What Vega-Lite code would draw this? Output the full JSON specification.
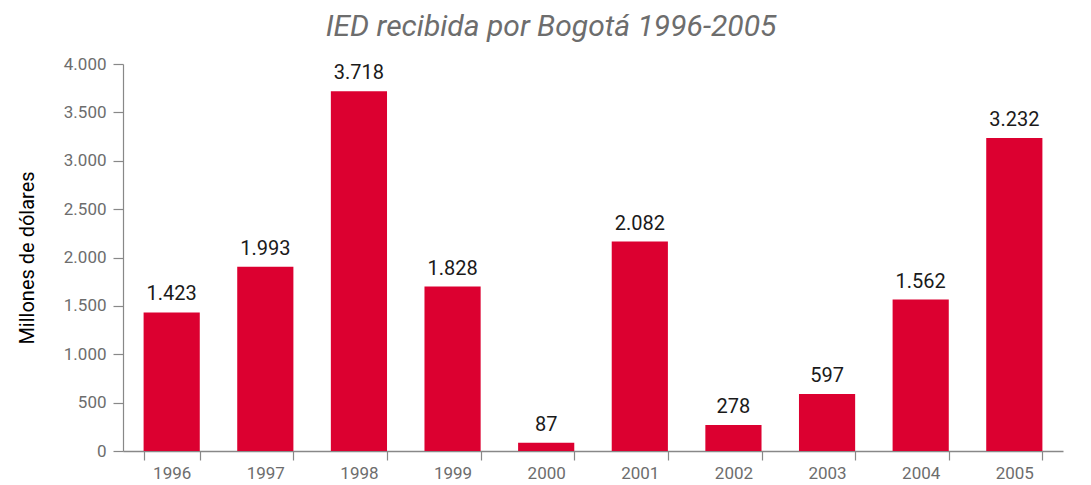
{
  "$schema": "https://vega.github.io/schema/vega-lite/v6.json",
  "autosize": {"type": "none"},
  "width": 940,
  "height": 387,
  "padding": {"left": 123, "top": 64, "right": 28, "bottom": 34},
  "background": "white",
  "title": {
    "text": "IED recibida por Bogotá 1996-2005",
    "font": "Roboto, sans-serif",
    "fontSize": 30,
    "fontStyle": "italic",
    "fontWeight": "normal",
    "color": "#6d6d6d",
    "anchor": "middle",
    "dx": -42,
    "offset": 13
  },
  "data": {
    "values": [
      {"year": "1996", "value": 1432, "label": "1.423"},
      {"year": "1997", "value": 1905, "label": "1.993"},
      {"year": "1998", "value": 3718, "label": "3.718"},
      {"year": "1999", "value": 1699, "label": "1.828"},
      {"year": "2000", "value": 84, "label": "87"},
      {"year": "2001", "value": 2165, "label": "2.082"},
      {"year": "2002", "value": 270, "label": "278"},
      {"year": "2003", "value": 590, "label": "597"},
      {"year": "2004", "value": 1565, "label": "1.562"},
      {"year": "2005", "value": 3234, "label": "3.232"}
    ]
  },
  "config": {
    "view": {"stroke": null},
    "font": "Roboto, sans-serif"
  },
  "encoding": {
    "x": {
      "field": "year",
      "type": "nominal",
      "sort": null,
      "scale": {"paddingInner": 0.4, "paddingOuter": 0.22},
      "axis": {
        "title": null,
        "labelAngle": 0,
        "labelColor": "#6d6d6d",
        "labelFontSize": 17,
        "labelPadding": 5,
        "domainColor": "#888888",
        "domainWidth": 1.5,
        "tickColor": "#888888",
        "tickWidth": 1.2,
        "tickSize": 9,
        "tickBand": "extent"
      }
    },
    "y": {
      "field": "value",
      "type": "quantitative",
      "scale": {"domain": [0, 4000]},
      "axis": {
        "title": "Millones de dólares",
        "titleColor": "#000000",
        "titleFontSize": 20,
        "titleFontWeight": "normal",
        "titlePadding": 26,
        "values": [0, 500, 1000, 1500, 2000, 2500, 3000, 3500, 4000],
        "format": ",d",
        "labelExpr": "replace(datum.label, ',', '.')",
        "labelColor": "#6d6d6d",
        "labelFontSize": 17,
        "labelPadding": 7,
        "grid": false,
        "domainColor": "#888888",
        "domainWidth": 1.2,
        "tickColor": "#888888",
        "tickWidth": 1.2,
        "tickSize": 10
      }
    }
  },
  "layer": [
    {"mark": {"type": "bar", "color": "#dc0030"}},
    {
      "mark": {"type": "text", "baseline": "bottom", "dy": -8, "fontSize": 20, "color": "#1a1a1a"},
      "encoding": {"text": {"field": "label", "type": "nominal"}}
    }
  ]
}
